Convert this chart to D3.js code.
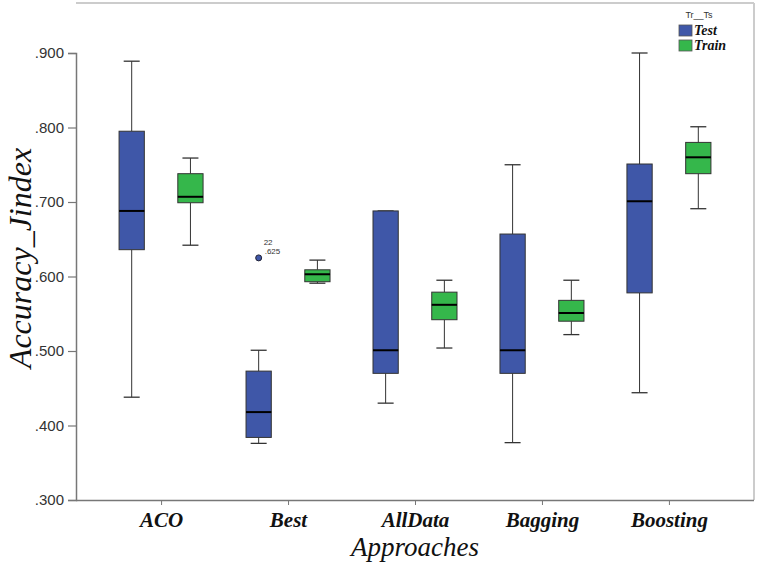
<!DOCTYPE html>
<html><head><meta charset="utf-8">
<script src="https://cdn.jsdelivr.net/npm/d3@7"></script>
<style>body{margin:0;background:#fff}svg{display:block}</style>
</head><body><svg id="c" width="759" height="563"></svg>
<script>
const categories = ["ACO","Best","AllData","Bagging","Boosting"];
const groups = ["Test","Train"];
// [whiskerLow, Q1, median, Q3, whiskerHigh]
const testStats = [
  [0.438,0.636,0.688,0.795,0.889],
  [0.376,0.384,0.418,0.473,0.501],
  [0.430,0.470,0.501,0.688,0.688],
  [0.377,0.470,0.501,0.657,0.750],
  [0.444,0.578,0.701,0.751,0.900]
];
const trainStats = [
  [0.642,0.699,0.707,0.738,0.759],
  [0.591,0.593,0.603,0.609,0.622],
  [0.504,0.542,0.562,0.579,0.595],
  [0.522,0.540,0.551,0.568,0.595],
  [0.691,0.738,0.760,0.780,0.801]
];
const outliers = [{cat:"Best", group:"Test", value:0.625, id:"22", label:".625"}];
const yTicks = [0.3,0.4,0.5,0.6,0.7,0.8,0.9];
const colors = {Test:"#3f57a8", Train:"#35b74b"};

const svg = d3.select("#c");
const L=76, R=754, T=3, B=500;
const x = d3.scalePoint().domain(categories).range([L,R]).padding(0.67);
const xs = d3.scaleBand().domain(groups).range([-42,42]).paddingInner(0.57);
const y = d3.scaleLinear().domain([0.3,0.9]).range([B,53]);

// frame
svg.append("line").attr("x1",L).attr("x2",R).attr("y1",T).attr("y2",T).attr("stroke","#999");
svg.append("line").attr("x1",R).attr("x2",R).attr("y1",T).attr("y2",B).attr("stroke","#ccc").attr("stroke-width",2);

const yAxis = svg.append("g").attr("transform",`translate(${L},0)`)
  .call(d3.axisLeft(y).tickValues(yTicks).tickSize(8).tickFormat(d=>d3.format(".3f")(d).replace(/^0/,"")));
yAxis.select(".domain").attr("stroke","#777").attr("stroke-width",1.5);
yAxis.selectAll(".tick line").attr("stroke","#777").attr("stroke-width",1.2);
yAxis.selectAll("text").attr("font-family","Liberation Sans, Arial, sans-serif").attr("font-size",15).attr("fill","#333").attr("dx",-1);

const xAxis = svg.append("g").attr("transform",`translate(0,${B})`)
  .call(d3.axisBottom(x).tickSize(5).tickSizeOuter(0));
xAxis.select(".domain").attr("stroke","#777").attr("stroke-width",1.5).attr("d",`M${L},0.5H${R}`);
xAxis.selectAll(".tick line").attr("stroke","#777");
xAxis.selectAll("text").attr("font-family","Liberation Serif, Times New Roman, serif")
  .attr("font-style","italic").attr("font-weight","bold").attr("font-size",21).attr("fill","#111").attr("dy","0.9em");

const bw = xs.bandwidth();
function drawBox(stats, group){
  stats.forEach((s,i)=>{
    const cx = x(categories[i]) + xs(group) + bw/2;
    const g = svg.append("g");
    const cap = 8;
    g.append("line").attr("x1",cx).attr("x2",cx).attr("y1",y(s[4])).attr("y2",y(s[3])).attr("stroke","#333");
    g.append("line").attr("x1",cx).attr("x2",cx).attr("y1",y(s[1])).attr("y2",y(s[0])).attr("stroke","#333");
    g.append("line").attr("x1",cx-cap).attr("x2",cx+cap).attr("y1",y(s[4])).attr("y2",y(s[4])).attr("stroke","#333").attr("stroke-width",1.3);
    g.append("line").attr("x1",cx-cap).attr("x2",cx+cap).attr("y1",y(s[0])).attr("y2",y(s[0])).attr("stroke","#333").attr("stroke-width",1.3);
    g.append("rect").attr("x",cx-bw/2).attr("width",bw).attr("y",y(s[3])).attr("height",y(s[1])-y(s[3]))
      .attr("fill",colors[group]).attr("stroke","#333").attr("stroke-width",1);
    g.append("line").attr("x1",cx-bw/2).attr("x2",cx+bw/2).attr("y1",y(s[2])).attr("y2",y(s[2])).attr("stroke","#000").attr("stroke-width",2);
  });
}
drawBox(testStats,"Test");
drawBox(trainStats,"Train");

outliers.forEach(o=>{
  const cx = x(o.cat) + xs(o.group) + bw/2;
  svg.append("circle").attr("cx",cx).attr("cy",y(o.value)).attr("r",3).attr("fill",colors[o.group]).attr("stroke","#223");
  svg.append("text").attr("x",cx+5).attr("y",y(o.value)-13).text(o.id)
    .attr("font-family","Liberation Sans, Arial, sans-serif").attr("font-size",8).attr("fill","#333");
  svg.append("text").attr("x",cx+6).attr("y",y(o.value)-4).text(o.label)
    .attr("font-family","Liberation Sans, Arial, sans-serif").attr("font-size",8).attr("fill","#333");
});

// axis titles
svg.append("text").attr("transform","translate(31,258) rotate(-90)").attr("text-anchor","middle")
  .attr("font-family","Liberation Serif, Times New Roman, serif").attr("font-style","italic").attr("font-size",32).attr("fill","#111")
  .text("Accuracy_Jindex");
svg.append("text").attr("x",x("AllData")).attr("y",556).attr("text-anchor","middle")
  .attr("font-family","Liberation Serif, Times New Roman, serif").attr("font-style","italic").attr("font-size",27).attr("fill","#111")
  .text("Approaches");

// legend
const lg = svg.append("g");
lg.append("text").attr("x",699).attr("y",18).attr("text-anchor","middle").attr("font-family","Liberation Sans, Arial, sans-serif")
  .attr("font-size",9).attr("fill","#333").text("Tr__Ts");
groups.forEach((gname,i)=>{
  lg.append("rect").attr("x",679).attr("y",25+i*15).attr("width",13).attr("height",11).attr("fill",colors[gname]).attr("stroke","#555").attr("stroke-width",0.8);
  lg.append("text").attr("x",694).attr("y",35+i*15).text(gname).attr("font-family","Liberation Serif, Times New Roman, serif")
    .attr("font-style","italic").attr("font-weight","bold").attr("font-size",14).attr("fill","#111");
});
</script></body></html>
